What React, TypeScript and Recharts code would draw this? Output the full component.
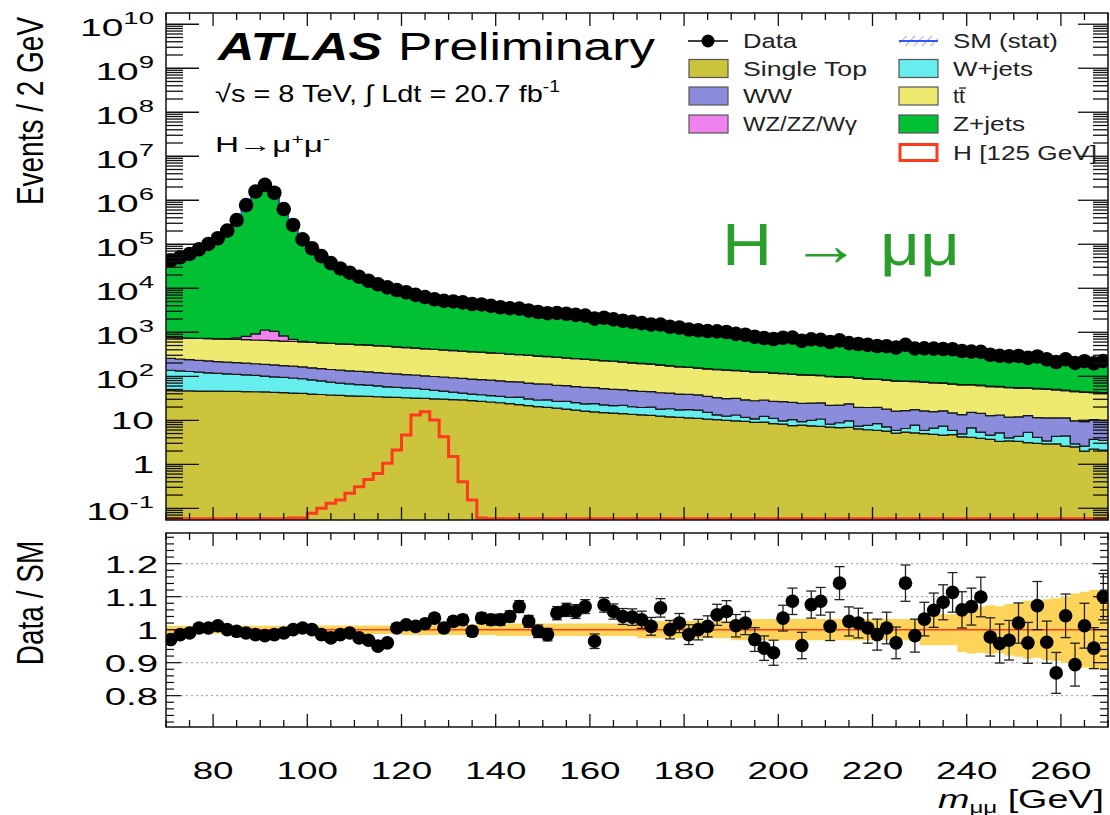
import React from 'react';
import {
  ComposedChart,
  Area,
  Line,
  Scatter,
  XAxis,
  YAxis,
  ReferenceLine,
  ErrorBar,
  CartesianGrid,
} from 'recharts';

const FONT = '"Liberation Sans", Arial, Helvetica, sans-serif';

// ---- binning: 2 GeV bins from 70 to 270 GeV ----
const binEdges = [
  70, 72, 74, 76, 78, 80, 82, 84, 86, 88, 90, 92, 94, 96, 98, 100, 102, 104, 106, 108,
  110, 112, 114, 116, 118, 120, 122, 124, 126, 128, 130, 132, 134, 136, 138, 140, 142, 144, 146, 148,
  150, 152, 154, 156, 158, 160, 162, 164, 166, 168, 170, 172, 174, 176, 178, 180, 182, 184, 186, 188,
  190, 192, 194, 196, 198, 200, 202, 204, 206, 208, 210, 212, 214, 216, 218, 220, 222, 224, 226, 228,
  230, 232, 234, 236, 238, 240, 242, 244, 246, 248, 250, 252, 254, 256, 258, 260, 262, 264, 266, 268, 270,
];
const binCentres = binEdges.slice(0, -1).map((e, i) => (e + binEdges[i + 1]) / 2);

// ---- background expectations (events / 2 GeV) ----
const singleTop = [
  47, 46.8, 46.5, 46.2, 46, 45.8, 45.5, 45.3, 45, 44.5,
  44, 43, 42.3, 41.5, 40.8, 39.5, 38.5, 37.5, 36.8, 36,
  35.5, 35, 34.3, 33.7, 33, 32.5, 32, 31.5, 30.8, 30.2,
  29.6, 29, 28, 27, 26, 25, 23.8, 22.6, 21.5, 20.4,
  19.6, 18.8, 18, 17, 16.2, 15.5, 15, 14.6, 14.1, 13.7,
  13.3, 12.9, 12.4, 12, 11.7, 11.3, 11, 10.6, 10.3, 10,
  9.7, 9.4, 9.0, 9.1, 8.4, 8.2, 7.6, 7.8, 7.5, 7.3,
  7.0, 6.8, 6.9, 6.4, 6.1, 5.9, 5.7, 5.1, 5.4, 5.2,
  5.0, 4.8, 4.6, 4.7, 4.2, 4.1, 3.9, 3.7, 3.3, 3.4,
  3.3, 3.1, 3.0, 2.9, 2.9, 2.6, 2.5, 2.0, 2.2, 2.1,
];
const wJets = [
  90, 86, 82, 78, 74, 71, 68, 65, 63, 60,
  57, 54, 52, 50, 47, 43, 40, 36, 33, 31,
  29, 28, 26, 24, 23, 22, 21, 19, 17, 16,
  14, 12.5, 11.5, 11, 10.5, 10, 9.5, 11, 9, 8.5,
  9.5, 8, 9, 8.2, 7.5, 8.5, 7.4, 7, 7.8, 6.6,
  6.2, 7, 5.6, 6.3, 5.5, 6.1, 6, 4.5, 3, 2.4,
  3.5, 2.2, 1.8, 3.2, 2.6, 1.5, 2.8, 1.5, 2.5, 3.4,
  1.2, 2.0, 2.8, 1.0, 1.6, 2.5, 1.4, 0.8, 1.1, 2.6,
  0.9, 1.8, 2.8, 1.2, 0.7, 2.6, 1.5, 0.9, 1.9, 0.6,
  1.0, 2.2, 1.1, 0.5, 1.4, 1.8, 0.4, 0.6, 1.5, 1.4,
];
const ww = [
  118, 114, 110, 106, 103, 99, 96, 93, 91, 88,
  86, 84, 81, 78, 75, 73, 71, 69, 68, 66,
  65, 63, 61, 59, 57, 55, 54, 52, 51, 50,
  49, 48, 47, 46, 45, 44, 42.5, 41, 39.5, 38,
  37, 35.5, 34.5, 33, 32, 31, 30, 29, 28, 27,
  26, 25, 24.2, 23.3, 22.2, 21.4, 20.6, 20, 19.4, 18.8,
  18.3, 17.6, 17, 16.6, 16, 16.8, 15.2, 15, 14.6, 14.2,
  13.7, 13.3, 13.9, 12.3, 11.8, 11.3, 10.8, 10.3, 10, 9.7,
  10.4, 9.2, 9, 8.8, 8.6, 8.4, 9.0, 8.1, 8, 7.8,
  7.7, 7.5, 7.4, 7.9, 7.1, 6.9, 6.8, 6.7, 6.6, 6.5,
];
const ttbar = [
  500, 498, 496, 494, 492, 490, 487, 483, 479, 475,
  470, 463, 456, 448, 439, 430, 422, 414, 406, 398,
  391, 384, 373, 362, 351, 340, 330, 320, 310, 301,
  292, 283, 275, 266, 258, 250, 242, 235, 228, 221,
  214, 207, 200, 193, 187, 180, 173, 167, 161, 155,
  149, 143, 137, 131, 125, 120, 115, 112, 109, 106,
  103, 100, 97, 94, 91, 88, 85, 83, 80.5, 78,
  76, 74, 72, 70, 67, 65, 63, 61, 59.5, 58,
  56.5, 55, 53, 51.5, 50, 48.5, 47, 45.5, 44, 43,
  42, 41, 40, 39, 37.5, 36, 35, 33.5, 32, 31,
];
const diboson = [
  6, 6, 7, 8, 9, 12, 22, 60, 130, 250,
  470, 400, 200, 70, 22, 10, 7, 6, 5, 5,
  4.5, 4.5, 4, 4, 4, 3.5, 3.5, 3.5, 3, 3,
  3, 3, 3, 3, 3, 3, 3, 3, 3, 3,
  2.5, 2.5, 2.5, 2.5, 2.5, 2.5, 2.5, 2.5, 2.5, 2.5,
  2.5, 2.5, 2.5, 2.5, 2.5, 2.5, 2.5, 2.5, 2.5, 2.5,
  2, 2, 2, 2, 2, 2, 2, 2, 2, 2,
  2, 2, 2, 2, 2, 2, 2, 2, 2, 2,
  1.5, 1.5, 1.5, 1.5, 1.5, 1.5, 1.5, 1.5, 1.5, 1.5,
  1.5, 1.5, 1.5, 1.5, 1.5, 1.5, 1.5, 1.5, 1.5, 1.5,
];
const zJets = [
  42940, 50720, 60170, 75790, 100380, 134480, 203280, 356050, 783000, 1593100,
  2279900, 1502000, 636600, 274300, 127800, 80700, 53940, 37590, 28080, 22290,
  18140, 14770, 12450, 10460, 8610, 7560, 6570, 5770, 5020, 4750,
  4510, 4270, 4050, 3790, 3530, 3260, 3070, 2900, 2750, 2610,
  2470, 2350, 2220, 2100, 1990, 1877, 1757, 1645, 1547, 1455,
  1368, 1295, 1223, 1155, 1083, 1014, 955, 905, 861, 820,
  771, 730, 690, 660, 635, 610, 582, 559, 536, 515,
  496, 475, 456, 439, 424, 408, 398, 388, 377, 360,
  346, 330, 314, 303, 290, 275, 265, 256, 246, 238,
  227, 218, 210, 201, 193, 184, 179, 172, 165, 160,
];

// ---- signal: H (125 GeV) ----
const higgs = [
  0, 0, 0, 0, 0, 0, 0, 0, 0, 0,
  0, 0, 0, 0.06, 0.06, 0.077, 0.1, 0.13, 0.155, 0.22,
  0.31, 0.45, 0.62, 1.05, 2.1, 4.6, 13.2, 15.7, 10.2, 4.2,
  1.5, 0.4, 0.155, 0.06, 0, 0, 0, 0, 0, 0,
  0, 0, 0, 0, 0, 0, 0, 0, 0, 0,
  0, 0, 0, 0, 0, 0, 0, 0, 0, 0,
  0, 0, 0, 0, 0, 0, 0, 0, 0, 0,
  0, 0, 0, 0, 0, 0, 0, 0, 0, 0,
  0, 0, 0, 0, 0, 0, 0, 0, 0, 0,
  0, 0, 0, 0, 0, 0, 0, 0, 0, 0,
];

// ---- observed events ----
const dataEvents = [
  42400, 50700, 60300, 76900, 101600, 136800, 204000, 355000, 776000, 1570000,
  2240000, 1480000, 631000, 275000, 129000, 81300, 53700, 37200, 28200, 22600,
  18200, 14800, 12300, 10500, 9120, 8130, 7080, 6310, 5620, 5176,
  5023, 4784, 4393, 4285, 3986, 3698, 3526, 3440, 3126, 2886,
  2714, 2751, 2634, 2485, 2391, 2041, 2134, 1968, 1830, 1723,
  1612, 1500, 1498, 1330, 1275, 1157, 1110, 1066, 1050, 1013,
  919, 878, 792, 741, 702, 750, 755, 636, 692, 673,
  602, 654, 566, 542, 516, 488, 483, 449, 519, 429,
  432, 426, 417, 412, 376, 364, 359, 309, 292, 285,
  289, 262, 282, 242, 211, 243, 201, 220, 197, 222,
];

// ---- ratio panel ----
const ratio = [
  0.970, 0.985, 0.990, 1.005, 1.005, 1.012, 1.000, 0.995, 0.990, 0.985,
  0.982, 0.985, 0.990, 1.000, 1.005, 1.000, 0.985, 0.975, 0.985, 0.990,
  0.975, 0.968, 0.950, 0.960, 1.005, 1.015, 1.010, 1.018, 1.035, 1.005,
  1.025, 1.030, 0.995, 1.035, 1.030, 1.030, 1.040, 1.070, 1.025, 0.995,
  0.985, 1.050, 1.060, 1.055, 1.070, 0.965, 1.075, 1.055, 1.040, 1.038,
  1.030, 1.010, 1.066, 1.000, 1.020, 0.985, 1.000, 1.010, 1.045, 1.055,
  1.012, 1.020, 0.970, 0.944, 0.930, 1.035, 1.086, 0.952, 1.076, 1.086,
  1.010, 1.141, 1.025, 1.020, 1.005, 0.985, 1.005, 0.960, 1.141, 0.982,
  1.032, 1.059, 1.083, 1.113, 1.060, 1.070, 1.099, 0.978, 0.958, 0.968,
  1.020, 0.960, 1.073, 0.962, 0.869, 1.042, 0.894, 1.012, 0.944, 1.100,
];
const ratioErr = [
  0.005, 0.005, 0.004, 0.004, 0.003, 0.003, 0.003, 0.002, 0.002, 0.002,
  0.002, 0.002, 0.002, 0.002, 0.003, 0.004, 0.004, 0.005, 0.006, 0.007,
  0.008, 0.008, 0.009, 0.010, 0.011, 0.011, 0.012, 0.013, 0.013, 0.014,
  0.014, 0.015, 0.015, 0.016, 0.016, 0.017, 0.017, 0.018, 0.018, 0.019,
  0.019, 0.020, 0.020, 0.021, 0.021, 0.022, 0.022, 0.023, 0.024, 0.025,
  0.026, 0.027, 0.028, 0.028, 0.029, 0.030, 0.031, 0.032, 0.032, 0.033,
  0.034, 0.035, 0.036, 0.037, 0.038, 0.039, 0.040, 0.040, 0.041, 0.042,
  0.043, 0.050, 0.044, 0.045, 0.046, 0.047, 0.048, 0.048, 0.055, 0.050,
  0.051, 0.052, 0.053, 0.060, 0.055, 0.056, 0.060, 0.058, 0.059, 0.060,
  0.061, 0.062, 0.073, 0.064, 0.062, 0.066, 0.065, 0.068, 0.062, 0.070,
];
// relative statistical uncertainty of the SM expectation
const smStat = [
  0.012, 0.012, 0.012, 0.012, 0.012, 0.012, 0.012, 0.012, 0.012, 0.012,
  0.012, 0.012, 0.012, 0.012, 0.012, 0.013, 0.013, 0.013, 0.013, 0.013,
  0.013, 0.013, 0.013, 0.013, 0.013, 0.016, 0.016, 0.016, 0.016, 0.016,
  0.016, 0.016, 0.016, 0.016, 0.016, 0.019, 0.019, 0.019, 0.019, 0.019,
  0.019, 0.019, 0.019, 0.019, 0.019, 0.019, 0.019, 0.019, 0.019, 0.019,
  0.026, 0.026, 0.026, 0.026, 0.026, 0.026, 0.026, 0.026, 0.026, 0.026,
  0.032, 0.032, 0.032, 0.032, 0.032, 0.032, 0.032, 0.032, 0.032, 0.032,
  0.032, 0.032, 0.032, 0.032, 0.032, 0.032, 0.032, 0.032, 0.032, 0.032,
  0.047, 0.047, 0.047, 0.047, 0.068, 0.072, 0.070, 0.074, 0.071, 0.078,
  0.082, 0.088, 0.085, 0.092, 0.095, 0.100, 0.110, 0.115, 0.120, 0.120,
];

// ---- axis ticks ----
const xTickStep = 5;
const xTickLabels = [80, 100, 120, 140, 160, 180, 200, 220, 240, 260];
const ratioTickLabels = [0.8, 0.9, 1, 1.1, 1.2];

// ---- styling / layout ----
const C = {
  singleTop: '#ccc43c',
  wJets: '#66eded',
  ww: '#8c8cdc',
  ttbar: '#eeea70',
  diboson: '#ee82ee',
  zJets: '#00c034',
  higgs: '#ff3a1a',
  band: '#fdd35a',
  sm: '#3355ff',
};

const W = 1110;
const PLOT_L = 166;
const PLOT_R = 1108;
const TOP_T = 13;
const TOP_B = 520;
const RATIO_Y0 = 530; // page offset of the ratio chart
const RAT_T = 3;
const RAT_B = 197;
const AX = 1; // thickness reserved by each axis

const Y_MIN = 0.0542;
const Y_MAX = 1.8e10;
const R_MIN = 0.705;
const R_MAX = 1.293;
const STACK_FLOOR = 1e-3;
const HIGGS_FLOOR = 0.058;

const xTicks: number[] = [];
for (let v = binEdges[0]; v <= binEdges[binEdges.length - 1]; v += xTickStep) xTicks.push(v);

const logTicks: number[] = [];
for (let e = -2; e <= 10; e++) {
  for (let k = 1; k <= 9; k++) {
    const v = k * Math.pow(10, e);
    if (v >= Y_MIN && v <= Y_MAX) logTicks.push(v);
  }
}

const ratioTicks: number[] = [];
for (let i = 36; i <= 64; i++) ratioTicks.push(i / 50);

const histKeys = ['singleTop', 'wJets', 'ww', 'ttbar', 'diboson', 'zJets'];
const histSeries = [singleTop, wJets, ww, ttbar, diboson, zJets];
const histColors = [C.singleTop, C.wJets, C.ww, C.ttbar, C.diboson, C.zJets];

// step table on bin edges; the last edge repeats the final bin
const histTable = binEdges.map((m, i) => {
  const k = Math.min(i, binCentres.length - 1);
  const row: Record<string, any> = { m };
  let sum = 0;
  histSeries.forEach((s, j) => {
    const lo = j === 0 ? STACK_FLOOR : sum;
    sum += s[k];
    row[histKeys[j]] = [lo, sum];
  });
  row.sm = sum;
  row.higgs = Math.max(higgs[k], HIGGS_FLOOR);
  row.band = [1 - smStat[k], 1 + smStat[k]];
  return row;
});

const dataPoints = binCentres.map((m, i) => ({ m, events: dataEvents[i] }));
const ratioPoints = binCentres.map((m, i) => ({ m, r: ratio[i], err: ratioErr[i] }));

const isMajorX = (v: number) => v % 20 === 0;

// ---- tick renderers (ticks drawn inside the frame, ROOT style) ----
function LogTickLeft(props: any) {
  const { y, payload } = props;
  const v = payload.value;
  const lg = Math.log10(v);
  const exp = Math.round(lg);
  const major = Math.abs(lg - exp) < 1e-6;
  const hasSup = exp >= 2 || exp < 0;
  return (
    <g>
      <line x1={PLOT_L} x2={PLOT_L + (major ? 33 : 17)} y1={y} y2={y} stroke="#111" strokeWidth={1.3} />
      {major && (
        <g transform={`translate(${PLOT_L - 12}, ${y + (hasSup ? 4 : 1)}) scale(1.62, 1)`}>
          <text textAnchor="end" dominantBaseline="central" fontSize={24} fontFamily={FONT} fill="#000">
            {exp === 0 ? '1' : '10'}
            {hasSup && (
              <tspan dy={-10} fontSize={17}>
                {String(exp)}
              </tspan>
            )}
          </text>
        </g>
      )}
    </g>
  );
}

function LogTickRight(props: any) {
  const { y, payload } = props;
  const lg = Math.log10(payload.value);
  const major = Math.abs(lg - Math.round(lg)) < 1e-6;
  return <line x1={PLOT_R} x2={PLOT_R - (major ? 30 : 15)} y1={y} y2={y} stroke="#111" strokeWidth={1.3} />;
}

function makeXTick(edgeY: number, dir: number, labelY: number | null) {
  return function XTick(props: any) {
    const { x, payload } = props;
    const v = payload.value;
    const major = isMajorX(v);
    const showLabel = labelY !== null && xTickLabels.includes(v);
    return (
      <g>
        <line x1={x} x2={x} y1={edgeY} y2={edgeY + dir * (major ? 13 : 7)} stroke="#111" strokeWidth={1.3} />
        {showLabel && (
          <g transform={`translate(${x}, ${labelY}) scale(1.6, 1)`}>
            <text textAnchor="middle" dominantBaseline="central" fontSize={23} fontFamily={FONT} fill="#000">
              {String(v)}
            </text>
          </g>
        )}
      </g>
    );
  };
}

function RatioTickLeft(props: any) {
  const { y, payload } = props;
  const v = payload.value;
  const major = Math.abs(v * 10 - Math.round(v * 10)) < 1e-6;
  const label = ratioTickLabels.find((t) => Math.abs(t - v) < 1e-6);
  return (
    <g>
      <line x1={PLOT_L} x2={PLOT_L + (major ? 15 : 8)} y1={y} y2={y} stroke="#111" strokeWidth={1.2} />
      {label !== undefined && (
        <g transform={`translate(${PLOT_L - 8}, ${y + 1}) scale(1.6, 1)`}>
          <text textAnchor="end" dominantBaseline="central" fontSize={24} fontFamily={FONT} fill="#000">
            {String(label)}
          </text>
        </g>
      )}
    </g>
  );
}

function RatioTickRight(props: any) {
  const { y, payload } = props;
  const v = payload.value;
  const major = Math.abs(v * 10 - Math.round(v * 10)) < 1e-6;
  return <line x1={PLOT_R} x2={PLOT_R - (major ? 15 : 8)} y1={y} y2={y} stroke="#111" strokeWidth={1.2} />;
}

const TopXTickBottom = makeXTick(TOP_B, -1, null);
const TopXTickTop = makeXTick(TOP_T, 1, null);
const RatXTickBottom = makeXTick(RAT_B, -1, 771 - RATIO_Y0);
const RatXTickTop = makeXTick(RAT_T, 1, null);

const topMarker = (p: any) => <circle cx={p.cx} cy={p.cy} r={7.3} fill="#000" />;
const ratioMarker = (p: any) => <circle cx={p.cx} cy={p.cy} r={6.8} fill="#000" />;

function MainPanel() {
  return (
    <ComposedChart
      width={W}
      height={530}
      data={histTable}
      margin={{ top: TOP_T - AX, right: W - PLOT_R - AX, bottom: 530 - TOP_B - AX, left: PLOT_L - AX }}
    >
      {histKeys.map((key, j) => (
        <Area
          key={key}
          xAxisId="b"
          yAxisId="l"
          type="stepAfter"
          dataKey={key}
          fill={histColors[j]}
          fillOpacity={1}
          stroke="#161616"
          strokeWidth={1.2}
          dot={false}
          activeDot={false}
          isAnimationActive={false}
        />
      ))}
      <Line
        xAxisId="b"
        yAxisId="l"
        type="stepAfter"
        dataKey="sm"
        stroke={C.sm}
        strokeWidth={1.2}
        dot={false}
        activeDot={false}
        isAnimationActive={false}
      />
      <Line
        xAxisId="b"
        yAxisId="l"
        type="stepAfter"
        dataKey="higgs"
        stroke={C.higgs}
        strokeWidth={3}
        dot={false}
        activeDot={false}
        isAnimationActive={false}
      />
      <Scatter
        xAxisId="b"
        yAxisId="l"
        data={dataPoints}
        dataKey="events"
        shape={topMarker}
        isAnimationActive={false}
      />
      <XAxis
        xAxisId="b"
        dataKey="m"
        type="number"
        domain={[70, 270]}
        allowDataOverflow
        ticks={xTicks}
        interval={0}
        height={AX}
        axisLine={false}
        tickLine={false}
        tick={(p: any) => <TopXTickBottom {...p} />}
      />
      <XAxis
        xAxisId="t"
        orientation="top"
        dataKey="m"
        type="number"
        domain={[70, 270]}
        allowDataOverflow
        ticks={xTicks}
        interval={0}
        height={AX}
        axisLine={false}
        tickLine={false}
        tick={(p: any) => <TopXTickTop {...p} />}
      />
      <YAxis
        yAxisId="l"
        type="number"
        scale="log"
        domain={[Y_MIN, Y_MAX]}
        allowDataOverflow
        ticks={logTicks}
        interval={0}
        width={AX}
        axisLine={false}
        tickLine={false}
        tick={(p: any) => <LogTickLeft {...p} />}
      />
      <YAxis
        yAxisId="r"
        orientation="right"
        type="number"
        scale="log"
        domain={[Y_MIN, Y_MAX]}
        allowDataOverflow
        ticks={logTicks}
        interval={0}
        width={AX}
        axisLine={false}
        tickLine={false}
        tick={(p: any) => <LogTickRight {...p} />}
      />
    </ComposedChart>
  );
}

function RatioPanel() {
  return (
    <ComposedChart
      width={W}
      height={285}
      data={histTable}
      margin={{ top: RAT_T - AX, right: W - PLOT_R - AX, bottom: 285 - RAT_B - AX, left: PLOT_L - AX }}
    >
      <CartesianGrid
        xAxisId="b"
        yAxisId="l"
        vertical={false}
        horizontalValues={[0.8, 0.9, 1.1, 1.2]}
        stroke="#9a9a9a"
        strokeDasharray="2 3"
      />
      <Area
        xAxisId="b"
        yAxisId="l"
        type="stepAfter"
        dataKey="band"
        fill={C.band}
        fillOpacity={1}
        stroke="none"
        dot={false}
        activeDot={false}
        isAnimationActive={false}
      />
      <ReferenceLine xAxisId="b" yAxisId="l" y={1} stroke={C.higgs} strokeWidth={1.5} />
      <Scatter
        xAxisId="b"
        yAxisId="l"
        data={ratioPoints}
        dataKey="r"
        shape={ratioMarker}
        isAnimationActive={false}
      >
        <ErrorBar dataKey="err" direction="y" width={5} stroke="#222" strokeWidth={1.3} />
      </Scatter>
      <XAxis
        xAxisId="b"
        dataKey="m"
        type="number"
        domain={[70, 270]}
        allowDataOverflow
        ticks={xTicks}
        interval={0}
        height={AX}
        axisLine={false}
        tickLine={false}
        tick={(p: any) => <RatXTickBottom {...p} />}
      />
      <XAxis
        xAxisId="t"
        orientation="top"
        dataKey="m"
        type="number"
        domain={[70, 270]}
        allowDataOverflow
        ticks={xTicks}
        interval={0}
        height={AX}
        axisLine={false}
        tickLine={false}
        tick={(p: any) => <RatXTickTop {...p} />}
      />
      <YAxis
        yAxisId="l"
        type="number"
        domain={[R_MIN, R_MAX]}
        allowDataOverflow
        ticks={ratioTicks}
        interval={0}
        width={AX}
        axisLine={false}
        tickLine={false}
        tick={(p: any) => <RatioTickLeft {...p} />}
      />
      <YAxis
        yAxisId="r"
        orientation="right"
        type="number"
        domain={[R_MIN, R_MAX]}
        allowDataOverflow
        ticks={ratioTicks}
        interval={0}
        width={AX}
        axisLine={false}
        tickLine={false}
        tick={(p: any) => <RatioTickRight {...p} />}
      />
    </ComposedChart>
  );
}

function LegendBox({ x, y, color }: { x: number; y: number; color: string }) {
  return <rect x={x} y={y - 9} width={39} height={18} fill={color} stroke="#555" strokeWidth={1.2} />;
}

function LegendText({ x, y, w, children }: { x: number; y: number; w: number; children: React.ReactNode }) {
  return (
    <text x={x} y={y + 7} fontSize={20} fontFamily={FONT} fill="#222" textLength={w} lengthAdjust="spacingAndGlyphs">
      {children}
    </text>
  );
}

function Annotations() {
  const rows = [41, 68.5, 96, 124, 152.5];
  const lx = 689;
  const rx = 899;
  return (
    <svg
      width={W}
      height={815}
      style={{ position: 'absolute', left: 0, top: 0, pointerEvents: 'none' }}
    >
      <defs>
        <pattern id="hatch" width="6" height="6" patternUnits="userSpaceOnUse" patternTransform="rotate(45)">
          <line x1="0" y1="0" x2="0" y2="6" stroke="#8a93c8" strokeWidth={1.5} />
        </pattern>
      </defs>

      {/* frames */}
      <rect x={PLOT_L} y={TOP_T} width={PLOT_R - PLOT_L} height={TOP_B - TOP_T} fill="none" stroke="#111" strokeWidth={1.5} />
      <rect
        x={PLOT_L}
        y={RATIO_Y0 + RAT_T}
        width={PLOT_R - PLOT_L}
        height={RAT_B - RAT_T}
        fill="none"
        stroke="#111"
        strokeWidth={1.5}
      />

      {/* axis titles */}
      <text
        transform="translate(30, 111) scale(1.32, 1) rotate(-90)"
        textAnchor="middle"
        dominantBaseline="central"
        fontSize={28}
        fontFamily={FONT}
        fill="#000"
      >
        Events / 2 GeV
      </text>
      <text
        transform="translate(30, 603) scale(1.32, 1) rotate(-90)"
        textAnchor="middle"
        dominantBaseline="central"
        fontSize={28}
        fontFamily={FONT}
        fill="#000"
      >
        Data / SM
      </text>
      <text
        x={938}
        y={808}
        fontSize={25}
        fontFamily={FONT}
        fill="#000"
        textLength={166}
        lengthAdjust="spacingAndGlyphs"
      >
        <tspan fontStyle="italic">m</tspan>
        <tspan fontSize={16} dy={5}>μμ</tspan>
        <tspan dy={-5}> [GeV]</tspan>
      </text>

      {/* labels */}
      <text x={218} y={60} fontSize={38} fontWeight="bold" fontStyle="italic" fontFamily={FONT} fill="#000" textLength={164} lengthAdjust="spacingAndGlyphs">
        ATLAS
      </text>
      <text x={398} y={60} fontSize={38} fontFamily={FONT} fill="#000" textLength={257} lengthAdjust="spacingAndGlyphs">
        Preliminary
      </text>
      <text x={215} y={102} fontSize={24} fontFamily={FONT} fill="#000" textLength={345} lengthAdjust="spacingAndGlyphs">
        √s = 8 TeV, ∫ Ldt = 20.7 fb
        <tspan dy={-10} fontSize={16}>-1</tspan>
      </text>
      <text x={215} y={152} fontSize={22} fontFamily={FONT} fill="#000" textLength={115} lengthAdjust="spacingAndGlyphs">
        H→μ<tspan dy={-8} fontSize={14}>+</tspan>
        <tspan dy={8}>μ</tspan>
        <tspan dy={-8} fontSize={14}>-</tspan>
      </text>
      <text x={722} y={265} fontSize={60} fontFamily={FONT} fill="#2a9e2a" textLength={238} lengthAdjust="spacingAndGlyphs">
        H → μμ
      </text>

      {/* legend, left column */}
      <line x1={lx - 1} x2={lx + 39} y1={rows[0]} y2={rows[0]} stroke="#000" strokeWidth={1.5} />
      <circle cx={lx + 19} cy={rows[0]} r={6.5} fill="#000" />
      <LegendText x={743} y={rows[0]} w={54}>Data</LegendText>
      <LegendBox x={lx} y={rows[1]} color={C.singleTop} />
      <LegendText x={743} y={rows[1]} w={124}>Single Top</LegendText>
      <LegendBox x={lx} y={rows[2]} color={C.ww} />
      <LegendText x={743} y={rows[2]} w={49}>WW</LegendText>
      <LegendBox x={lx} y={rows[3]} color={C.diboson} />
      <LegendText x={743} y={rows[3]} w={114}>WZ/ZZ/Wγ</LegendText>

      {/* legend, right column */}
      <rect x={rx} y={rows[0] - 5} width={39} height={10} fill="url(#hatch)" />
      <line x1={rx} x2={rx + 39} y1={rows[0]} y2={rows[0]} stroke={C.sm} strokeWidth={2} />
      <LegendText x={953} y={rows[0]} w={105}>SM (stat)</LegendText>
      <LegendBox x={rx} y={rows[1]} color={C.wJets} />
      <LegendText x={953} y={rows[1]} w={80}>W+jets</LegendText>
      <LegendBox x={rx} y={rows[2]} color={C.ttbar} />
      <LegendText x={953} y={rows[2]} w={12}>tt</LegendText>
      <line x1={959} x2={966} y1={rows[2] - 8} y2={rows[2] - 8} stroke="#222" strokeWidth={1.3} />
      <LegendBox x={rx} y={rows[3]} color={C.zJets} />
      <LegendText x={953} y={rows[3]} w={72}>Z+jets</LegendText>
      <rect x={rx + 1} y={rows[4] - 8} width={37} height={16} fill="#fff" stroke={C.higgs} strokeWidth={3} />
      <LegendText x={953} y={rows[4]} w={144}>H [125 GeV]</LegendText>
    </svg>
  );
}

export default function App() {
  return (
    <div style={{ position: 'absolute', left: 0, top: 0, width: W, height: 815, background: '#fff', fontFamily: FONT }}>
      <div style={{ position: 'absolute', left: 0, top: 0 }}>
        <MainPanel />
      </div>
      <div style={{ position: 'absolute', left: 0, top: RATIO_Y0 }}>
        <RatioPanel />
      </div>
      <Annotations />
    </div>
  );
}
